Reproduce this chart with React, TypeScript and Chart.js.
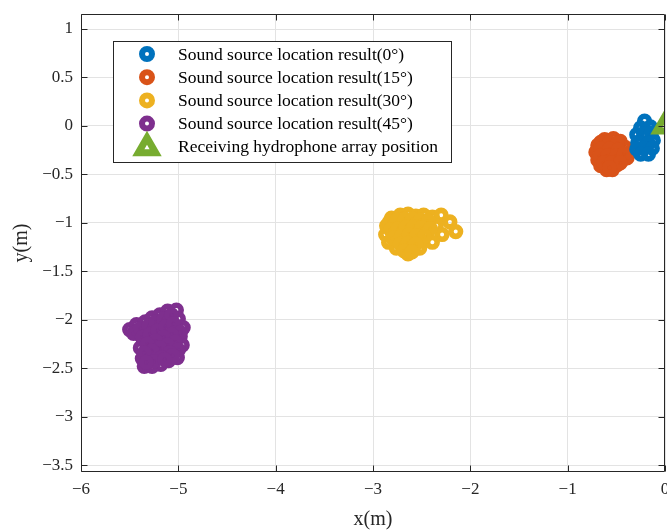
import React, { useEffect, useRef } from 'react';
import { Chart, registerables } from 'chart.js';

Chart.register(...registerables);

// Series labels and colours
const seriesLabels = [
  'Sound source location result(0°)',
  'Sound source location result(15°)',
  'Sound source location result(30°)',
  'Sound source location result(45°)',
];
const arrayLabel = 'Receiving hydrophone array position';
const seriesColors = ['#0072BD', '#D95319', '#EDB120', '#7E2F8E'];
const arrayColor = '#77AC30';

// Localisation results, 0° source
const x0 = [-0.21, -0.15, -0.25, -0.29, -0.22, -0.14, -0.12, -0.28, -0.17, -0.22, -0.13, -0.29, -0.25, -0.17];
const y0 = [0.05, -0.01, -0.02, -0.09, -0.08, -0.07, -0.15, -0.17, -0.18, -0.23, -0.23, -0.24, -0.29, -0.29];

// Localisation results, 15° source
const x15 = [
  -0.62, -0.53, -0.46, -0.69, -0.60, -0.50, -0.41, -0.71, -0.64, -0.56, -0.47, -0.36,
  -0.69, -0.61, -0.52, -0.44, -0.39, -0.66, -0.58, -0.49, -0.60, -0.54,
  -0.66, -0.57, -0.49, -0.66, -0.57, -0.48, -0.67, -0.59, -0.50, -0.42, -0.63, -0.55, -0.46, -0.57,
];
const y15 = [
  -0.14, -0.13, -0.16, -0.20, -0.21, -0.22, -0.22, -0.27, -0.28, -0.27, -0.29, -0.27,
  -0.35, -0.34, -0.35, -0.35, -0.33, -0.41, -0.42, -0.40, -0.45, -0.45,
  -0.17, -0.17, -0.18, -0.24, -0.24, -0.25, -0.31, -0.31, -0.31, -0.29, -0.38, -0.38, -0.38, -0.43,
];

// Localisation results, 30° source
const x30 = [
  -2.81, -2.72, -2.64, -2.56, -2.48, -2.39, -2.30,
  -2.86, -2.77, -2.69, -2.61, -2.53, -2.45, -2.35, -2.21,
  -2.87, -2.78, -2.70, -2.62, -2.54, -2.46, -2.29, -2.15,
  -2.84, -2.75, -2.67, -2.59, -2.51, -2.39,
  -2.76, -2.68, -2.60, -2.52,
  -2.64,
  -2.83, -2.75, -2.67, -2.59, -2.51, -2.43,
  -2.82, -2.74, -2.66, -2.58, -2.50, -2.41,
  -2.80, -2.71, -2.63, -2.55, -2.47,
  -2.72, -2.64, -2.56,
  -2.68, -2.60,
];
const y30 = [
  -0.95, -0.92, -0.91, -0.93, -0.92, -0.94, -0.92,
  -1.03, -1.01, -1.00, -0.99, -1.00, -1.01, -1.03, -0.99,
  -1.12, -1.10, -1.09, -1.07, -1.09, -1.10, -1.12, -1.09,
  -1.20, -1.18, -1.17, -1.16, -1.18, -1.20,
  -1.26, -1.25, -1.26, -1.26,
  -1.32,
  -0.99, -0.97, -0.96, -0.96, -0.97, -0.98,
  -1.07, -1.06, -1.04, -1.04, -1.05, -1.06,
  -1.16, -1.14, -1.12, -1.13, -1.14,
  -1.22, -1.21, -1.22,
  -1.29, -1.30,
];

// Localisation results, 45° source
const x45 = [
  -5.50, -5.43, -5.34, -5.27, -5.19, -5.11, -5.02,
  -5.41, -5.33, -5.25, -5.17, -5.09, -5.00,
  -4.95, -5.02, -5.11, -5.19, -5.27, -5.36,
  -4.98, -5.07, -5.15, -5.23, -5.31, -5.39,
  -4.96, -5.04, -5.13, -5.21, -5.29, -5.37,
  -5.01, -5.10, -5.18, -5.27, -5.35,
  -5.46, -5.39, -5.30, -5.23, -5.15, -5.07,
  -5.37, -5.29, -5.21, -5.13, -5.05,
  -4.98, -5.07, -5.15, -5.23, -5.32,
  -5.03, -5.11, -5.19, -5.27, -5.35,
  -5.00, -5.09, -5.17, -5.25, -5.33,
  -5.06, -5.14,
];
const y45 = [
  -2.10, -2.05, -2.02, -1.98, -1.95, -1.91, -1.90,
  -2.14, -2.11, -2.07, -2.03, -2.00, -1.99,
  -2.08, -2.09, -2.11, -2.14, -2.18, -2.21,
  -2.17, -2.19, -2.22, -2.25, -2.28, -2.29,
  -2.26, -2.27, -2.30, -2.35, -2.39, -2.40,
  -2.39, -2.42, -2.46, -2.48, -2.48,
  -2.14, -2.09, -2.06, -2.02, -1.99, -1.95,
  -2.18, -2.15, -2.11, -2.07, -2.04,
  -2.13, -2.15, -2.18, -2.22, -2.25,
  -2.23, -2.26, -2.29, -2.32, -2.34,
  -2.31, -2.34, -2.39, -2.43, -2.44,
  -2.37, -2.41,
];

// Hydrophone array position
const arrayX = [0];
const arrayY = [0];

// Axes
const xTicks = [-6, -5, -4, -3, -2, -1, 0];
const yTicks = [1, 0.5, 0, -0.5, -1, -1.5, -2, -2.5, -3, -3.5];
const xRange = [-6, 0];
const yRange = [-3.57, 1.155];

const FONT = 'Liberation Serif';
const AXIS_COLOR = '#262626';

const fmtTick = (v: number) => String(Math.round(v * 10) / 10).replace('-', '\u2212');

const toPoints = (xs: number[], ys: number[]) => xs.map((x, i) => ({ x, y: ys[i] }));

// Box around the plot area with inward tick marks on all four sides
const axesFrame = {
  id: 'axesFrame',
  afterDatasetsDraw(chart: any) {
    const { ctx, chartArea } = chart;
    const xs = chart.scales.x;
    const ys = chart.scales.y;
    const L = Math.floor(chartArea.left) + 0.5;
    const R = Math.floor(chartArea.right) - 0.5;
    const T = Math.floor(chartArea.top) + 0.5;
    const B = Math.floor(chartArea.bottom) - 0.5;
    const tl = 6;
    ctx.save();
    ctx.strokeStyle = AXIS_COLOR;
    ctx.lineWidth = 1;
    ctx.beginPath();
    ctx.rect(L, T, R - L, B - T);
    xs.ticks.forEach((t: any) => {
      const px = Math.round(xs.getPixelForValue(t.value)) + 0.5;
      ctx.moveTo(px, B);
      ctx.lineTo(px, B - tl);
      ctx.moveTo(px, T);
      ctx.lineTo(px, T + tl);
    });
    ys.ticks.forEach((t: any) => {
      const py = Math.round(ys.getPixelForValue(t.value)) + 0.5;
      ctx.moveTo(L, py);
      ctx.lineTo(L + tl, py);
      ctx.moveTo(R, py);
      ctx.lineTo(R - tl, py);
    });
    ctx.stroke();
    ctx.restore();
  },
};

// Boxed legend placed inside the plot area
const boxLegend = {
  id: 'boxLegend',
  afterDraw(chart: any) {
    const { ctx } = chart;
    const box = { left: 113, top: 41, width: 338, height: 121 };
    const markerX = 147;
    const textX = 178;
    const firstRow = 54;
    const rowStep = 23.2;
    ctx.save();
    ctx.fillStyle = '#ffffff';
    ctx.fillRect(box.left, box.top, box.width, box.height);
    ctx.strokeStyle = AXIS_COLOR;
    ctx.lineWidth = 1;
    ctx.strokeRect(box.left + 0.5, box.top + 0.5, box.width, box.height);

    const items = [...chart.data.datasets].sort((a: any, b: any) => a.legendIndex - b.legendIndex);
    items.forEach((ds: any, i: number) => {
      const cy = firstRow + i * rowStep;
      ctx.strokeStyle = ds.borderColor;
      ctx.beginPath();
      if (ds.pointStyle === 'triangle') {
        const r = 10;
        const cyT = cy + 1;
        ctx.lineWidth = 7;
        ctx.lineJoin = 'miter';
        for (let k = 0; k < 3; k++) {
          const a = (k * 2 * Math.PI) / 3;
          const px = markerX + Math.sin(a) * r;
          const py = cyT - Math.cos(a) * r;
          if (k === 0) ctx.moveTo(px, py);
          else ctx.lineTo(px, py);
        }
        ctx.closePath();
      } else {
        ctx.lineWidth = 6;
        ctx.arc(markerX, cy, 5, 0, Math.PI * 2);
      }
      ctx.stroke();
      ctx.fillStyle = '#000000';
      ctx.font = `17.5px "${FONT}"`;
      ctx.textAlign = 'left';
      ctx.textBaseline = 'middle';
      ctx.fillText(ds.label, textX, cy + 1);
    });
    ctx.restore();
  },
};

const ringDataset = (label: string, color: string, xs: number[], ys: number[], order: number, legendIndex: number) => ({
  label,
  data: toPoints(xs, ys),
  pointStyle: 'circle',
  pointRadius: 4.8,
  pointHoverRadius: 4.8,
  borderWidth: 5.6,
  borderColor: color,
  backgroundColor: 'rgba(0,0,0,0)',
  showLine: false,
  order,
  legendIndex,
});

export default function App() {
  const canvasRef = useRef<HTMLCanvasElement | null>(null);

  useEffect(() => {
    const canvas = canvasRef.current;
    if (!canvas) return;
    Chart.defaults.font.family = FONT;

    const chart = new Chart(canvas, {
      type: 'scatter',
      data: {
        datasets: [
          {
            label: arrayLabel,
            data: toPoints(arrayX, arrayY),
            pointStyle: 'triangle',
            pointRadius: 10,
            pointHoverRadius: 10,
            borderWidth: 7,
            borderColor: arrayColor,
            backgroundColor: 'rgba(0,0,0,0)',
            showLine: false,
            order: 0,
            legendIndex: 4,
          } as any,
          ringDataset(seriesLabels[0], seriesColors[0], x0, y0, 1, 0),
          ringDataset(seriesLabels[1], seriesColors[1], x15, y15, 2, 1),
          ringDataset(seriesLabels[2], seriesColors[2], x30, y30, 3, 2),
          ringDataset(seriesLabels[3], seriesColors[3], x45, y45, 4, 3),
        ],
      },
      options: {
        animation: false,
        responsive: false,
        devicePixelRatio: 1,
        events: [],
        layout: { autoPadding: false, padding: { left: 0, top: 14, right: 2, bottom: 0 } },
        plugins: {
          legend: { display: false },
          tooltip: { enabled: false },
        },
        scales: {
          x: {
            type: 'linear',
            min: xRange[0],
            max: xRange[1],
            afterBuildTicks: (s: any) => {
              s.ticks = xTicks.map((v) => ({ value: v }));
            },
            afterFit: (s: any) => {
              s.height = 58;
              s.paddingLeft = 0;
              s.paddingRight = 0;
            },
            ticks: {
              callback: (v: any) => fmtTick(Number(v)),
              color: AXIS_COLOR,
              font: { family: FONT, size: 17 },
              padding: 7,
              maxRotation: 0,
              autoSkip: false,
            },
            grid: { color: '#e3e3e3', drawTicks: false },
            border: { display: false },
            title: {
              display: true,
              text: 'x(m)',
              color: AXIS_COLOR,
              font: { family: FONT, size: 20, lineHeight: 1 },
              padding: { top: 0, bottom: 0 },
            },
          },
          y: {
            type: 'linear',
            min: yRange[0],
            max: yRange[1],
            afterBuildTicks: (s: any) => {
              s.ticks = yTicks.map((v) => ({ value: v }));
            },
            afterFit: (s: any) => {
              s.width = 81;
              s.paddingTop = 0;
              s.paddingBottom = 0;
            },
            ticks: {
              callback: (v: any) => fmtTick(Number(v)),
              color: AXIS_COLOR,
              font: { family: FONT, size: 17 },
              padding: 8,
              autoSkip: false,
            },
            grid: { color: '#e3e3e3', drawTicks: false },
            border: { display: false },
            title: {
              display: true,
              text: 'y(m)',
              color: AXIS_COLOR,
              font: { family: FONT, size: 20, lineHeight: 1 },
              padding: { top: 12, bottom: 0 },
            },
          },
        },
      } as any,
      plugins: [axesFrame, boxLegend],
    });

    return () => chart.destroy();
  }, []);

  return (
    <div
      style={{
        position: 'absolute',
        left: 0,
        top: 0,
        width: 667,
        height: 530,
        overflow: 'hidden',
        background: '#ffffff',
      }}
    >
      <canvas ref={canvasRef} width={667} height={530} style={{ display: 'block', width: 667, height: 530 }} />
    </div>
  );
}
